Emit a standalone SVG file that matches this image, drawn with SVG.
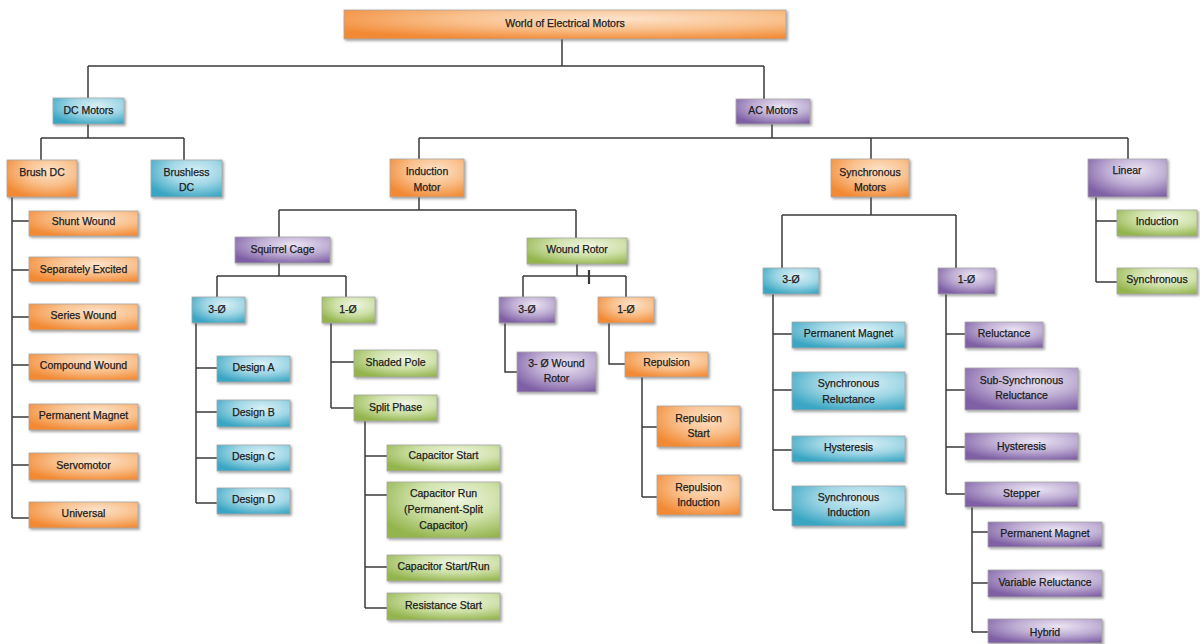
<svg xmlns="http://www.w3.org/2000/svg" width="1200" height="644" viewBox="0 0 1200 644">
<defs>
<radialGradient id="gO" cx="0.62" cy="0.3" r="0.75" fx="0.62" fy="0.3">
<stop offset="0" stop-color="#fde3cb"/><stop offset="0.5" stop-color="#f9c08c"/><stop offset="1" stop-color="#f28a35"/>
</radialGradient>
<radialGradient id="gB" cx="0.62" cy="0.3" r="0.75" fx="0.62" fy="0.3">
<stop offset="0" stop-color="#d9f0f6"/><stop offset="0.5" stop-color="#9fd6e5"/><stop offset="1" stop-color="#3aa6c3"/>
</radialGradient>
<radialGradient id="gP" cx="0.62" cy="0.3" r="0.75" fx="0.62" fy="0.3">
<stop offset="0" stop-color="#ebe4f3"/><stop offset="0.5" stop-color="#bfaed4"/><stop offset="1" stop-color="#7f60a5"/>
</radialGradient>
<radialGradient id="gG" cx="0.62" cy="0.3" r="0.75" fx="0.62" fy="0.3">
<stop offset="0" stop-color="#eff5e2"/><stop offset="0.5" stop-color="#cfe1a9"/><stop offset="1" stop-color="#94b54e"/>
</radialGradient>
<filter id="sh" x="-10%" y="-20%" width="130%" height="150%">
<feDropShadow dx="1.5" dy="1.5" stdDeviation="0.8" flood-color="#555" flood-opacity="0.55"/>
</filter>
<style>
.n{stroke:#a8a8a8;stroke-width:0.8;filter:url(#sh)}
.o{fill:url(#gO)} .b{fill:url(#gB)} .p{fill:url(#gP)} .g{fill:url(#gG)}
text{font-family:"Liberation Sans",Arial,sans-serif;font-size:10.5px;fill:#1c1c1c;stroke:#1c1c1c;stroke-width:0.25;text-anchor:middle}
.c{fill:none;stroke:#3a3a3a;stroke-width:1.5}
</style>
</defs>
<rect width="1200" height="644" fill="#ffffff"/>
<g id="connectors" class="c">
<path d="M562,39V66M88,66H764M88,66V98M764,66V99"/>
<path d="M88,124V138M41,138H184M41,138V160M184,138V160"/>
<path d="M12,197V518M12,221H29M12,270H29M12,317H29M12,365H29M12,417H29M12,465H29M12,518H29"/>
<path d="M772,124V138M419,138H1128M419,138V159M871,138V159M1128,138V159"/>
<path d="M1096,197V282M1096,221H1117M1096,282H1117"/>
<path d="M419,197V210M279,210H576M279,210V237M576,210V238"/>
<path d="M279,263V276M217,276H346M217,276V297M346,276V297"/>
<path d="M196,323V503M196,368H217M196,412H217M196,458H217M196,503H217"/>
<path d="M331,323V408M331,362H354M331,408H354"/>
<path d="M365,421V608M365,456H387M365,495H387M365,567H387M365,608H387"/>
<path d="M577,264V276M523,276H626M523,276V297M626,276V297"/>
<path d="M589,270V284" stroke-width="2.2"/>
<path d="M505,323V372H517M609,323V364H625"/>
<path d="M642,377V497M642,427H657M642,497H657"/>
<path d="M871,197V215M782,215H956M782,215V268M956,215V268"/>
<path d="M773,294V510M773,334H792M773,390H792M773,450H792M773,510H792"/>
<path d="M946,294V494M946,334H965M946,390H965M946,447H965M946,494H965"/>
<path d="M972,507V632M972,532H988M972,583H988M972,632H988"/>
</g>
<g id="root"><rect class="n o" x="344" y="10" width="442" height="29"/><text x="565" y="26.5">World of Electrical Motors</text></g>
<g id="dc"><rect class="n b" x="53" y="98" width="71" height="26"/><text x="88.5" y="113.5">DC Motors</text></g>
<g id="ac"><rect class="n p" x="736" y="99" width="74" height="25"/><text x="773" y="113.5">AC Motors</text></g>
<g id="brushdc"><rect class="n o" x="7" y="160" width="70" height="37"/><text x="42" y="175.5">Brush DC</text></g>
<g id="brushless"><rect class="n b" x="151" y="160" width="71" height="37"/><text x="186.5" y="175.5">Brushless</text><text x="186.5" y="190.5">DC</text></g>
<g id="induction"><rect class="n o" x="390" y="159" width="74" height="38"/><text x="427" y="174.5">Induction</text><text x="427" y="190.5">Motor</text></g>
<g id="syncmotors"><rect class="n o" x="831" y="159" width="78" height="38"/><text x="870" y="175.5">Synchronous</text><text x="870" y="190.5">Motors</text></g>
<g id="linear"><rect class="n p" x="1088" y="159" width="79" height="38"/><text x="1127" y="173.5">Linear</text></g>
<g id="lin-induction"><rect class="n g" x="1117" y="210" width="80" height="26"/><text x="1157" y="224.5">Induction</text></g>
<g id="lin-sync"><rect class="n g" x="1117" y="268" width="80" height="26"/><text x="1157" y="282.5">Synchronous</text></g>
<g id="shunt"><rect class="n o" x="29" y="211" width="109" height="25"/><text x="83.5" y="224.5">Shunt Wound</text></g>
<g id="separately"><rect class="n o" x="29" y="257" width="109" height="25"/><text x="83.5" y="272.5">Separately Excited</text></g>
<g id="series"><rect class="n o" x="29" y="304" width="109" height="26"/><text x="83.5" y="318.5">Series Wound</text></g>
<g id="compound"><rect class="n o" x="29" y="354" width="109" height="26"/><text x="83.5" y="368.5">Compound Wound</text></g>
<g id="dc-pm"><rect class="n o" x="29" y="404" width="109" height="26"/><text x="83.5" y="418.5">Permanent Magnet</text></g>
<g id="servo"><rect class="n o" x="29" y="453" width="109" height="27"/><text x="83.5" y="468.5">Servomotor</text></g>
<g id="universal"><rect class="n o" x="29" y="502" width="109" height="26"/><text x="83.5" y="516.5">Universal</text></g>
<g id="squirrel"><rect class="n p" x="235" y="237" width="95" height="26"/><text x="282.5" y="252.5">Squirrel Cage</text></g>
<g id="wound"><rect class="n g" x="527" y="238" width="100" height="26"/><text x="577" y="252.5">Wound Rotor</text></g>
<g id="sc3"><rect class="n b" x="192" y="297" width="53" height="26"/><text x="217" y="312.5">3-Ø</text></g>
<g id="sc1"><rect class="n g" x="322" y="297" width="53" height="26"/><text x="348" y="312.5">1-Ø</text></g>
<g id="wr3"><rect class="n p" x="499" y="297" width="56" height="26"/><text x="527" y="312.5">3-Ø</text></g>
<g id="wr1"><rect class="n o" x="598" y="297" width="56" height="26"/><text x="626" y="312.5">1-Ø</text></g>
<g id="designA"><rect class="n b" x="217" y="356" width="73" height="26"/><text x="253.5" y="370.5">Design A</text></g>
<g id="designB"><rect class="n b" x="217" y="400" width="73" height="27"/><text x="253.5" y="415.5">Design B</text></g>
<g id="designC"><rect class="n b" x="217" y="445" width="73" height="26"/><text x="253.5" y="459.5">Design C</text></g>
<g id="designD"><rect class="n b" x="217" y="488" width="73" height="26"/><text x="253.5" y="502.5">Design D</text></g>
<g id="shaded"><rect class="n g" x="354" y="350" width="83" height="27"/><text x="395.5" y="365.5">Shaded Pole</text></g>
<g id="split"><rect class="n g" x="354" y="395" width="83" height="26"/><text x="395.5" y="410.5">Split Phase</text></g>
<g id="capstart"><rect class="n g" x="387" y="445" width="113" height="26"/><text x="443.5" y="458.5">Capacitor Start</text></g>
<g id="caprun"><rect class="n g" x="387" y="482" width="113" height="56"/><text x="443.5" y="496.5">Capacitor Run</text><text x="443.5" y="512.5">(Permanent-Split</text><text x="443.5" y="528.5">Capacitor)</text></g>
<g id="capstartrun"><rect class="n g" x="387" y="555" width="113" height="26"/><text x="443.5" y="569.5">Capacitor Start/Run</text></g>
<g id="resstart"><rect class="n g" x="387" y="593" width="113" height="27"/><text x="443.5" y="608.5">Resistance Start</text></g>
<g id="wr3wound"><rect class="n p" x="517" y="352" width="79" height="40"/><text x="556.5" y="366.5">3- Ø Wound</text><text x="556.5" y="381.5">Rotor</text></g>
<g id="repulsion"><rect class="n o" x="625" y="352" width="83" height="25"/><text x="666.5" y="365.5">Repulsion</text></g>
<g id="repstart"><rect class="n o" x="657" y="406" width="83" height="41"/><text x="698.5" y="421.5">Repulsion</text><text x="698.5" y="436.5">Start</text></g>
<g id="repind"><rect class="n o" x="657" y="475" width="83" height="40"/><text x="698.5" y="490.5">Repulsion</text><text x="698.5" y="505.5">Induction</text></g>
<g id="sync3"><rect class="n b" x="763" y="268" width="56" height="26"/><text x="791" y="282.5">3-Ø</text></g>
<g id="sync1"><rect class="n p" x="938" y="268" width="57" height="26"/><text x="966.5" y="282.5">1-Ø</text></g>
<g id="sync-pm"><rect class="n b" x="792" y="322" width="113" height="26"/><text x="848.5" y="336.5">Permanent Magnet</text></g>
<g id="sync-rel"><rect class="n b" x="792" y="372" width="113" height="38"/><text x="848.5" y="386.5">Synchronous</text><text x="848.5" y="402.5">Reluctance</text></g>
<g id="sync-hyst"><rect class="n b" x="792" y="436" width="113" height="26"/><text x="848.5" y="450.5">Hysteresis</text></g>
<g id="sync-ind"><rect class="n b" x="792" y="486" width="113" height="40"/><text x="848.5" y="500.5">Synchronous</text><text x="848.5" y="515.5">Induction</text></g>
<g id="reluctance"><rect class="n p" x="965" y="322" width="78" height="26"/><text x="1004" y="336.5">Reluctance</text></g>
<g id="subsync"><rect class="n p" x="965" y="368" width="113" height="42"/><text x="1021.5" y="383.5">Sub-Synchronous</text><text x="1021.5" y="398.5">Reluctance</text></g>
<g id="hyst1"><rect class="n p" x="965" y="433" width="113" height="27"/><text x="1021.5" y="449.5">Hysteresis</text></g>
<g id="stepper"><rect class="n p" x="965" y="482" width="113" height="25"/><text x="1021.5" y="496.5">Stepper</text></g>
<g id="step-pm"><rect class="n p" x="988" y="522" width="114" height="25"/><text x="1045" y="536.5">Permanent Magnet</text></g>
<g id="step-vr"><rect class="n p" x="988" y="570" width="114" height="27"/><text x="1045" y="585.5">Variable Reluctance</text></g>
<g id="step-hybrid"><rect class="n p" x="988" y="619" width="114" height="24"/><text x="1045" y="635.5">Hybrid</text></g>
</svg>
